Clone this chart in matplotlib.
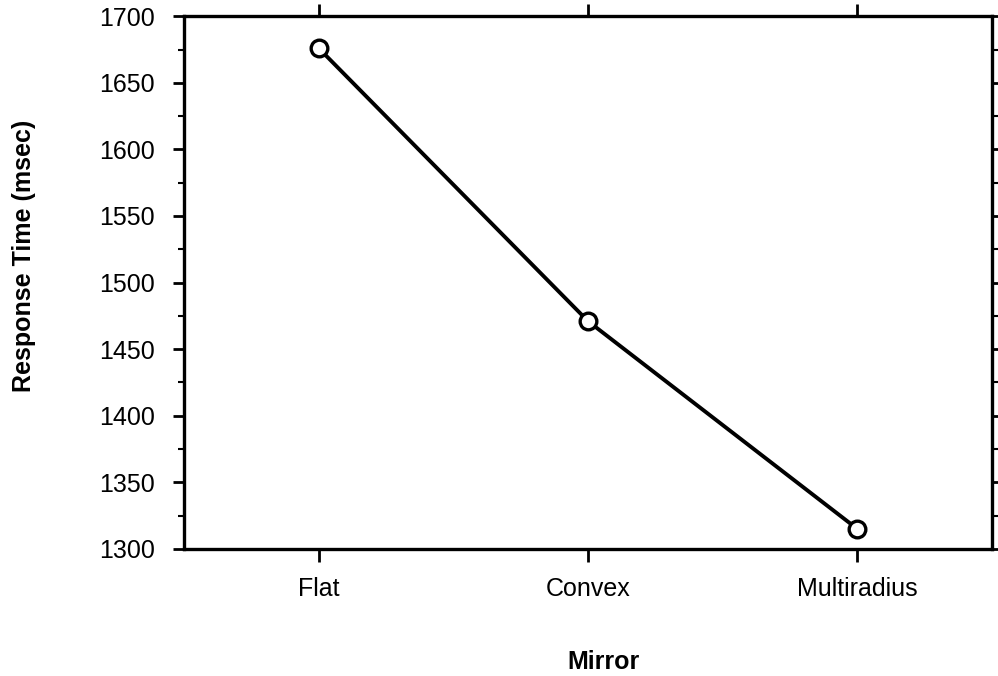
import matplotlib.pyplot as plt
from matplotlib.ticker import MultipleLocator

plt.rcParams['font.family'] = ['Liberation Sans', 'DejaVu Sans']

# data
mirrors = ['Flat', 'Convex', 'Multiradius']
response_ms = [1676, 1471, 1315]
y_ticks = [1300, 1350, 1400, 1450, 1500, 1550, 1600, 1650, 1700]

fig = plt.figure(figsize=(9.98, 6.76), dpi=100)
ax = fig.add_axes([0.1844, 0.188, 0.8096, 0.788])

xpos = list(range(len(mirrors)))
ax.plot(xpos, response_ms, color='black', lw=2.8, marker='o', ms=12,
        mfc='white', mec='black', mew=2.4, zorder=3, clip_on=False)

ax.set_xlim(-0.5, len(mirrors) - 0.5)
ax.set_ylim(1300, 1700)
ax.set_xticks(xpos)
ax.set_xticklabels(mirrors)
ax.set_yticks(y_ticks)
ax.yaxis.set_minor_locator(MultipleLocator(25))

for s in ax.spines.values():
    s.set_linewidth(2.4)

# left: long major / short minor; right: ticks every 25
ax.tick_params(axis='y', which='major', direction='out', length=8, width=2,
               labelsize=18, pad=13, right=True)
ax.tick_params(axis='y', which='minor', direction='out', length=4, width=1.5,
               right=True)
ax.tick_params(axis='x', which='major', direction='out', length=9, width=2,
               labelsize=18, pad=11, top=True)

ax.set_xlabel('Mirror', fontsize=18, fontweight='bold')
ax.xaxis.set_label_coords(0.5186, -0.19)
ax.set_ylabel('Response Time (msec)', fontsize=18, fontweight='bold')
ax.yaxis.set_label_coords(-0.183, 0.55)

fig.savefig('out.png', dpi=100)
